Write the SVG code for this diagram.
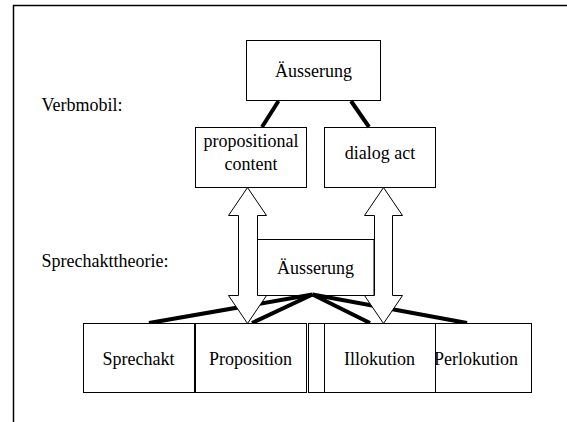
<svg xmlns="http://www.w3.org/2000/svg" width="567" height="422" viewBox="0 0 567 422">
  <style>
    .box { fill: #fff; stroke: #000; stroke-width: 1; }
    text { font-family: "Liberation Serif", "Times New Roman", serif; font-size: 18px; fill: #000; }
    .mid { text-anchor: middle; }
    .link { stroke: #000; stroke-width: 4; fill: none; }
    .barrow { fill: #fff; stroke: #000; stroke-width: 1; }
  </style>
  <rect width="567" height="422" fill="#fff"/>
  <!-- page frame (left and top edges) -->
  <path d="M13.5 422 V5.5 H567" fill="none" stroke="#000" stroke-width="1.5"/>

  <text x="41.5" y="111">Verbmobil:</text>
  <text x="41.5" y="267">Sprechakttheorie:</text>

  <g id="top-aeusserung">
    <rect class="box" x="246.5" y="40.5" width="134" height="60"/>
    <text class="mid" x="313.5" y="77">Äusserung</text>
  </g>
  <g id="propositional-content">
    <rect class="box" x="195.5" y="127.5" width="111" height="60"/>
    <text class="mid" x="251" y="147">propositional</text>
    <text class="mid" x="251" y="170">content</text>
  </g>
  <g id="dialog-act">
    <rect class="box" x="324.5" y="127.5" width="111" height="60"/>
    <text class="mid" x="380" y="159">dialog act</text>
  </g>
  <g id="mid-aeusserung">
    <rect class="box" x="257.5" y="239.5" width="116.5" height="56"/>
    <text class="mid" x="315.5" y="274">Äusserung</text>
  </g>

  <g id="connectors">
    <line class="link" x1="278.5" y1="101" x2="262" y2="127"/>
    <line class="link" x1="351" y1="101" x2="369" y2="127"/>
    <line class="link" x1="312.5" y1="294.5" x2="149" y2="323"/>
    <line class="link" x1="312.5" y1="294.5" x2="252" y2="323"/>
    <line class="link" x1="312.5" y1="294.5" x2="370" y2="323"/>
    <line class="link" x1="312.5" y1="294.5" x2="467" y2="323"/>
    <!-- double-headed block arrows -->
    <path class="barrow" d="M247.5 187.5 L266.5 215.5 H257.5 V295.5 H266.5 L247.5 323.5 L228.5 295.5 H238.5 V215.5 H228.5 Z"/>
    <path class="barrow" d="M383.5 187.5 L402.5 215.5 H392.5 V295.5 H402.5 L383.5 323.5 L364.5 295.5 H374.5 V215.5 H364.5 Z"/>
  </g>

  <g id="sprechakt">
    <rect class="box" x="83.5" y="323.5" width="111" height="69"/>
    <text class="mid" x="138.5" y="365">Sprechakt</text>
  </g>
  <g id="proposition">
    <rect class="box" x="195.5" y="323.5" width="111" height="69"/>
    <text class="mid" x="250.5" y="365">Proposition</text>
  </g>
  <g id="blank">
    <rect class="box" x="308.5" y="323.5" width="111" height="69"/>
  </g>
  <g id="perlokution">
    <rect class="box" x="420.5" y="323.5" width="111" height="69"/>
    <text class="mid" x="476" y="365">Perlokution</text>
  </g>
  <g id="illokution">
    <rect class="box" x="324.5" y="323.5" width="111" height="69"/>
    <text class="mid" x="379.5" y="365">Illokution</text>
  </g>
</svg>
